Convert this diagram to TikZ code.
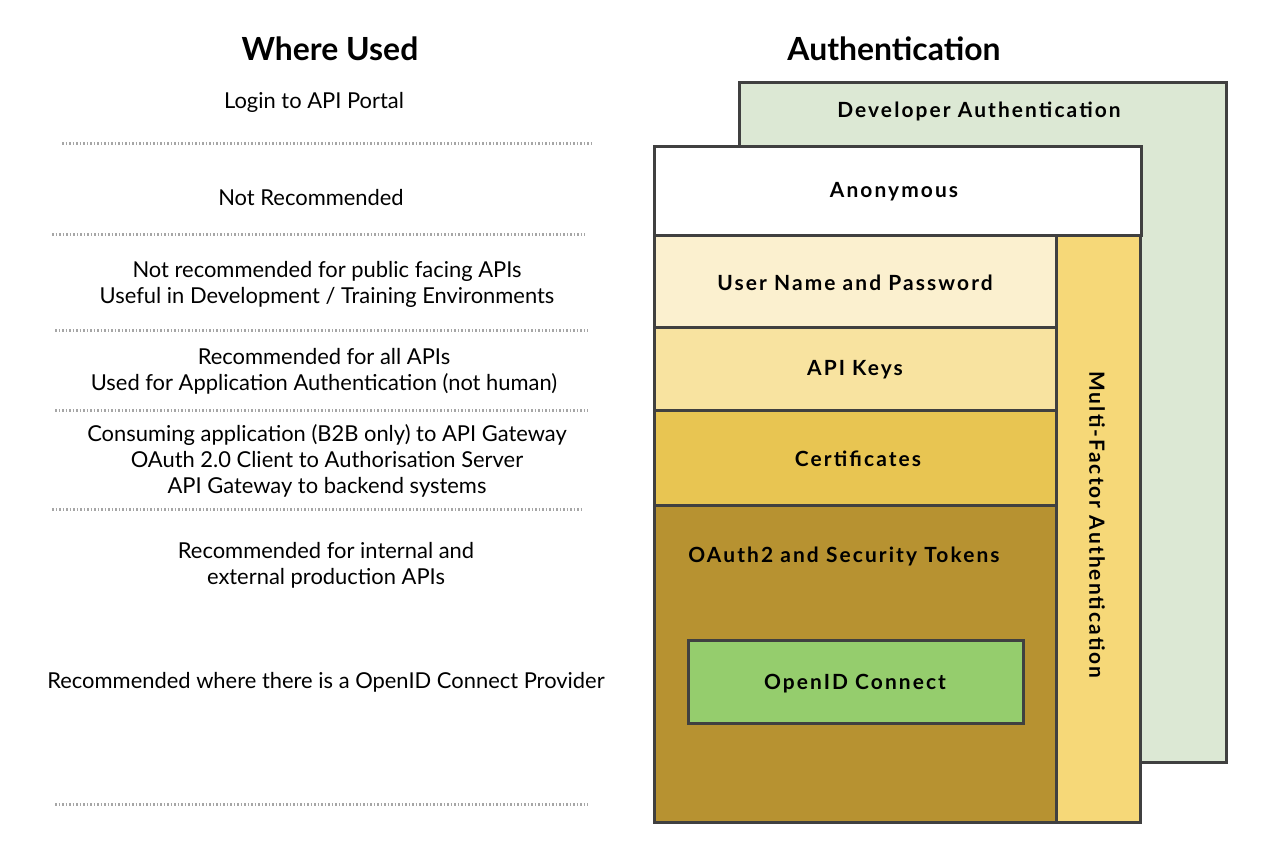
\documentclass[tikz,border=0pt]{standalone}
\usepackage{fontspec}
\setmainfont{Lato}
\newfontfamily\boxfont[LetterSpace=10]{Lato}
\usetikzlibrary{positioning}

\definecolor{devgreen}{HTML}{DCE8D4}
\definecolor{mfayellow}{HTML}{F6D878}
\definecolor{userpale}{HTML}{FBF0CF}
\definecolor{keyyellow}{HTML}{F8E3A0}
\definecolor{certgold}{HTML}{E8C552}
\definecolor{oauthbrown}{HTML}{B79231}
\definecolor{oidgreen}{HTML}{95CD6D}
\definecolor{edgegray}{HTML}{404040}

\begin{document}
\begin{tikzpicture}[x=1bp, y=-1bp,
    layer/.style={draw=edgegray, line width=3bp, inner sep=0pt},
    boxlabel/.style={font=\boxfont\fontsize{21}{24}\selectfont\bfseries, text=black},
    usetext/.style={font=\fontsize{22}{26}\selectfont, align=center, text=black},
    heading/.style={font=\fontsize{32}{36}\selectfont\bfseries},
    sep/.style={draw=gray!70, line width=3bp, dash pattern=on 1.5bp off 2bp}]

    % Page frame
    \useasboundingbox[fill=white] (0,0) rectangle (1266,848);

    % Headings
    \node[heading] (wheretitle) at (330,49) {Where Used};
    \node[heading] (authtitle) at (894,49) {Authentication};

    % Draw the stacked layers
    \draw[layer, fill=devgreen] (739,82) rectangle (1226,762);
    \draw[layer, fill=white] (654,146) rectangle (1141,235);
    \draw[layer, fill=mfayellow] (1056,235) rectangle (1140,822);
    \draw[layer, fill=userpale] (654,235) rectangle (1056,327);
    \draw[layer, fill=keyyellow] (654,327) rectangle (1056,410);
    \draw[layer, fill=certgold] (654,410) rectangle (1056,505);
    \draw[layer, fill=oauthbrown] (654,505) rectangle (1056,822);
    \draw[layer, fill=oidgreen] (688,640) rectangle (1023,723);

    % Label the layers
    \node[boxlabel] (devauth) at (979,111) {Developer Authentication};
    \node[boxlabel] (anon) at (894,192) {Anonymous};
    \node[boxlabel] (userpw) at (855,283) {User Name and Password};
    \node[boxlabel] (apikeys) at (855,370) {API Keys};
    \node[boxlabel] (certs) at (858,459) {Certificates};
    \node[boxlabel] (oauth) at (844,556) {OAuth2 and Security Tokens};
    \node[boxlabel] (oidc) at (855,684) {OpenID Connect};
    \node[boxlabel, rotate=-90] (mfa) at (1097,525) {Multi-Factor Authentication};

    % Where used texts
    \node[usetext] (portal) at (314,102) {Login to API Portal};
    \node[usetext] (notrec) at (311,198) {Not Recommended};
    \node[usetext] (notpublic) at (327,284) {Not recommended for public facing APIs\\Useful in Development / Training Environments};
    \node[usetext] (allapis) at (324,371) {Recommended for all APIs\\Used for Application Authentication (not human)};
    \node[usetext] (btob) at (327,461) {Consuming application (B2B only) to API Gateway\\OAuth 2.0 Client to Authorisation Server\\API Gateway to backend systems};
    \node[usetext] (internal) at (326,565) {Recommended for internal and\\external production APIs};
    \node[usetext] (oidprov) at (326,682) {Recommended where there is a OpenID Connect Provider};

    % Dotted separators
    \draw[sep] (62,143) -- (593,143);
    \draw[sep] (52,234) -- (585,234);
    \draw[sep] (55,330) -- (588,330);
    \draw[sep] (55,410) -- (588,410);
    \draw[sep] (52,509) -- (583,509);
    \draw[sep] (55,804) -- (588,804);
\end{tikzpicture}
\end{document}
